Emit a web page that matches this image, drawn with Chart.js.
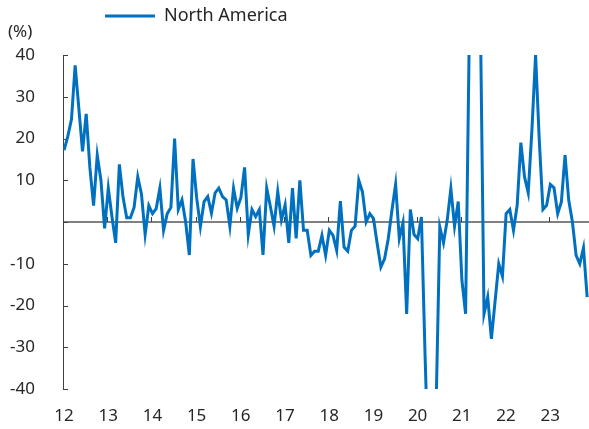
<!DOCTYPE html>
<html>
<head>
<meta charset="utf-8">
<script src="https://cdn.jsdelivr.net/npm/chart.js@4.4.1/dist/chart.umd.min.js"></script>
<style>
  html,body{margin:0;padding:0;background:#fff;}
  #wrap{width:589px;height:429px;}
</style>
</head>
<body>
<div id="wrap"><canvas id="chart" width="589" height="429"></canvas></div>
<script>
// monthly values, Jan 2012 .. Nov 2023
const seriesName = 'North America';
const unitLabel = '(%)';
const yearLabels = ['12','13','14','15','16','17','18','19','20','21','22','23'];
const yTicks = [40,30,20,10,0,-10,-20,-30,-40];
const values = [
  17.2,20.5,24.6,37.5,27.2,16.9,25.9,13,3.9,16,10,-1.5,
  8.1,1.2,-5,13.8,5.9,1,1,3.5,10.8,6.7,-3,3.9,
  2,3.2,8.1,-2,2,3.5,20,3,5.3,0,-7.9,15.1,
  5.7,-1.1,4.9,6.1,2.1,7,8.1,6.1,5.3,-1,8.1,3.3,
  5.9,13.1,-3,3,1.3,3,-7.9,8.1,3.7,-1,7.3,0.5,
  4.1,-5,8.1,-3.9,10,-2,-2,-8,-7,-7,-3.2,-8,
  -2,-3.2,-6.8,5,-6,-7,-2,-1,10,7.2,0,2,
  0.8,-5.2,-10.8,-8.8,-4,2.8,9,-4,-0.2,-22,3,-3,
  -4,1.2,-32,-62,-55,-44,-1.2,-5,0.4,8,-1,4.9,
  -14,-22,45,95,100,50,-22,-18,-28,-19,-10,-13,
  2,3,-2,4,19,10.8,7,22,40,19.6,3,4,
  9,8.2,2,4.8,16,5.2,0,-8,-10,-6.2,-18
];

const blue = '#0070C0', ink = '#262626', family = "'Noto Sans', sans-serif";
const points = values.map((v, i) => ({x: i + 0.3, y: v}));

const decor = {
  id: 'decor',
  afterLayout(c){ c.legend.left = 98; c.legend.top = 0; },
  beforeDatasetsDraw(c){
    const {ctx, chartArea: a, scales: {x, y}} = c;
    const y0 = y.getPixelForValue(0);
    ctx.save();
    ctx.strokeStyle = '#404040'; ctx.lineWidth = 1;
    ctx.beginPath();
    yTicks.forEach(v => { const py = Math.round(y.getPixelForValue(v)) + .5; ctx.moveTo(a.left, py); ctx.lineTo(a.left + 5, py); });
    yearLabels.forEach((_, k) => { const px = Math.round(x.getPixelForValue(k * 12)) + .5; ctx.moveTo(px, y0); ctx.lineTo(px, y0 - 5); });
    ctx.stroke();
    ctx.fillStyle = ink; ctx.font = `17px ${family}`; ctx.textBaseline = 'middle'; ctx.textAlign = 'left';
    ctx.fillText(unitLabel, 8, 32);
    ctx.restore();
  }
};

new Chart(document.getElementById('chart'), {
  type: 'line',
  data: {datasets: [{label: seriesName, data: points, borderColor: blue, backgroundColor: blue, borderWidth: 3, pointRadius: 0, tension: 0, fill: false}]},
  options: {
    responsive: false, animation: false, devicePixelRatio: 1,
    layout: {padding: {top: 20, bottom: 5, left: 0, right: 0}},
    plugins: {
      tooltip: {enabled: false},
      legend: {position: 'top', align: 'start', labels: {usePointStyle: true, pointStyle: 'line', pointStyleWidth: 50, padding: 7, color: ink, font: {family, size: 18}}}
    },
    scales: {
      x: {
        type: 'linear', min: 0, max: 142.8,
        afterBuildTicks: s => { s.ticks = yearLabels.map((_, k) => ({value: k * 12})); },
        afterFit: s => { s.height = 35; },
        ticks: {color: ink, font: {family, size: 17}, padding: 17, labelOffset: 1, maxRotation: 0, autoSkip: false, callback: (v, i) => yearLabels[i]},
        grid: {display: false, drawTicks: false},
        border: {display: false}
      },
      y: {
        min: -40, max: 40,
        afterBuildTicks: s => { s.ticks = yTicks.map(v => ({value: v})); },
        afterFit: s => { s.width = 63; },
        ticks: {color: ink, font: {family, size: 17}, padding: 28, callback: v => v === 0 ? '' : v},
        grid: {drawTicks: false, color: c => c.tick && c.tick.value === 0 ? '#808080' : 'transparent', lineWidth: 2},
        border: {display: true, color: '#404040', width: 1}
      }
    }
  },
  plugins: [decor]
});
</script>
</body>
</html>
